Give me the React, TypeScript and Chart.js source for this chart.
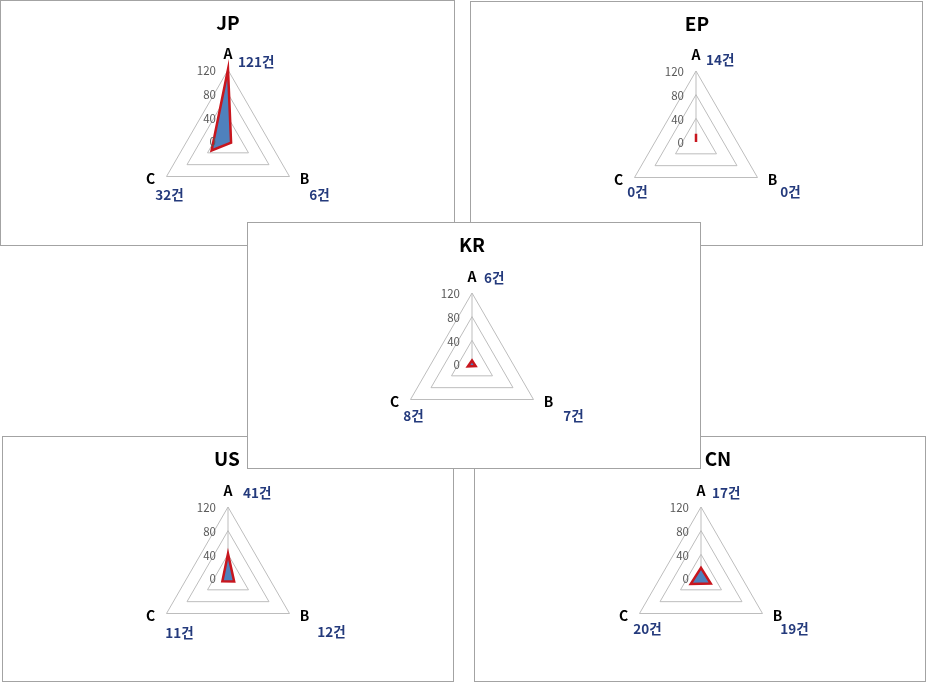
import React, { useEffect, useRef } from "react";
import { Chart, registerables } from "chart.js";

Chart.register(...registerables);

// ---- data ----
const categories = ["A", "B", "C"];
const countries = ["JP", "EP", "KR", "US", "CN"];
const jpValues = [121, 6, 32];
const epValues = [14, 0, 0];
const krValues = [6, 7, 8];
const usValues = [41, 12, 11];
const cnValues = [17, 19, 20];
const tickValues = [0, 40, 80, 120];
const unit = "건";

const valuesByCountry: Record<string, number[]> = {
  JP: jpValues,
  EP: epValues,
  KR: krValues,
  US: usValues,
  CN: cnValues,
};

// ---- layout (positions / styles) ----
const R = 71;
type PanelLayout = {
  left: number; top: number; width: number; height: number;
  cx: number; apex: number; titleX: number; z: number;
  valOff: [number, number][];
};
const layout: Record<string, PanelLayout> = {
  JP: { left: 0, top: 0, width: 455, height: 246, cx: 228, apex: 70, titleX: 228, z: 1,
        valOff: [[10, -8], [30, 18.5], [3, 18.5]] },
  EP: { left: 470, top: 1, width: 453, height: 245, cx: 226, apex: 70, titleX: 227, z: 1,
        valOff: [[10, -11], [33, 14.5], [3, 14.5]] },
  KR: { left: 247, top: 222, width: 454, height: 247, cx: 225, apex: 71, titleX: 225, z: 3,
        valOff: [[12, -15], [40, 16.5], [3, 16.5]] },
  US: { left: 2, top: 436, width: 452, height: 246, cx: 226, apex: 71, titleX: 225, z: 2,
        valOff: [[15, -14], [42, 18], [13, 19.5]] },
  CN: { left: 474, top: 436, width: 452, height: 246, cx: 227, apex: 71, titleX: 244, z: 2,
        valOff: [[11, -14], [32, 15.5], [8, 15.5]] },
};
const letterOff: [number, number][] = [[0, -16.5], [15, 2.5], [-16, 2.5]];
const FONT = '"Noto Sans CJK KR", "Noto Sans", sans-serif';

function RadarPanel({ name }: { name: string }) {
  const ref = useRef<HTMLCanvasElement>(null);
  const p = layout[name];
  const W = p.width - 2;
  const H = p.height - 2;
  useEffect(() => {
    const values = valuesByCountry[name];
    const cx = p.cx - 1;
    const cy = p.apex - 1 + R;
    const labelPlugin = {
      id: "customLabels",
      afterDraw(chart: any) {
        const ctx = chart.ctx as CanvasRenderingContext2D;
        const s = chart.scales.r;
        ctx.save();
        // title
        ctx.fillStyle = "#000";
        ctx.font = `bold 19px ${FONT}`;
        ctx.textAlign = "center";
        ctx.textBaseline = "middle";
        ctx.fillText(name, p.titleX - 1, 22);
        // tick labels
        ctx.font = `11.5px ${FONT}`;
        ctx.fillStyle = "#595959";
        ctx.textAlign = "right";
        s.ticks.forEach((t: any) => {
          const pt = s.getPointPositionForValue(0, t.value);
          ctx.fillText(String(t.value), pt.x - 12, pt.y + 1);
        });
        // category letters and value labels
        categories.forEach((c, i) => {
          const v = s.getPointPosition(i, s.drawingArea);
          ctx.font = `bold 14px ${FONT}`;
          ctx.fillStyle = "#000";
          ctx.textAlign = "center";
          ctx.fillText(c, v.x + letterOff[i][0], v.y + letterOff[i][1]);
          ctx.font = `bold 13.5px ${FONT}`;
          ctx.fillStyle = "#243a7c";
          ctx.textAlign = i === 0 ? "left" : "center";
          ctx.fillText(`${values[i]}${unit}`, v.x + p.valOff[i][0], v.y + p.valOff[i][1]);
        });
        ctx.restore();
      },
    };
    const chart = new Chart(ref.current as HTMLCanvasElement, {
      type: "radar",
      data: {
        labels: categories,
        datasets: [
          {
            label: name,
            data: values,
            backgroundColor: "#4f81bd",
            borderColor: "#c8161e",
            borderWidth: 2.5,
            pointRadius: 0,
            pointHoverRadius: 0,
            fill: true,
          },
        ],
      },
      options: {
        responsive: false,
        animation: false,
        devicePixelRatio: 1,
        layout: {
          padding: { left: cx - R, right: W - cx - R, top: cy - R, bottom: H - cy - R },
        },
        plugins: {
          legend: { display: false },
          tooltip: { enabled: false },
          title: { display: false },
        },
        scales: {
          r: {
            min: tickValues[0],
            max: tickValues[tickValues.length - 1],
            ticks: { stepSize: tickValues[1] - tickValues[0], display: false },
            pointLabels: { display: false },
            grid: { color: "#bdbdbd", lineWidth: 1 },
            angleLines: {
              display: true,
              color: (c: any) => (c.index === 0 ? "#bdbdbd" : "rgba(0,0,0,0)"),
              lineWidth: (c: any) => (c.index === 0 ? 1 : 0),
            },
          },
        },
      } as any,
      plugins: [labelPlugin],
    });
    return () => chart.destroy();
  }, []);
  return (
    <div
      style={{
        position: "absolute",
        left: p.left,
        top: p.top,
        width: p.width,
        height: p.height,
        boxSizing: "border-box",
        border: "1px solid #a3a3a3",
        background: "#fff",
        zIndex: p.z,
      }}
    >
      <canvas ref={ref} width={W} height={H} style={{ display: "block", width: W, height: H }} />
    </div>
  );
}

export default function App() {
  return (
    <div style={{ position: "absolute", left: 0, top: 0, width: 927, height: 683, background: "#fff", overflow: "hidden" }}>
      {countries.map((c) => (
        <RadarPanel key={c} name={c} />
      ))}
    </div>
  );
}
